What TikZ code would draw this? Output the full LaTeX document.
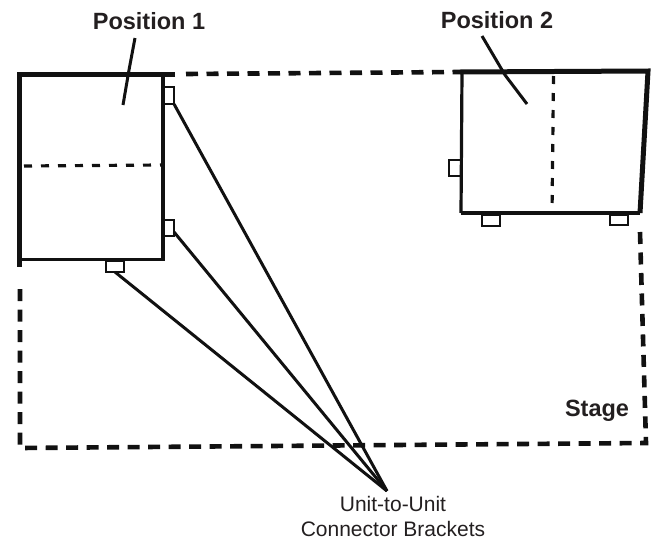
\documentclass[tikz,border=0pt]{standalone}
\usepackage{fontspec}
\setmainfont{Liberation Sans}
\definecolor{inkc}{HTML}{111111}
\definecolor{txtc}{HTML}{231F20}
\tikzset{
  x=1pt,y=-1pt,
  heavy/.style={draw=inkc,line width=5pt},
  unit/.style={draw=inkc,line width=3.2pt},
  stageline/.style={draw=inkc,line width=4.6pt,dash pattern=on 12pt off 8.5pt},
  foldline/.style={draw=inkc,line width=3.2pt,dash pattern=on 8pt off 9pt},
  bracket/.style={draw=inkc,line width=2.4pt,fill=white},
  leader/.style={draw=inkc,line width=3pt},
  lab/.style={text=txtc,font=\fontsize{23.5}{28}\selectfont\bfseries,inner sep=0pt},
  note/.style={text=txtc,font=\fontsize{21}{25}\selectfont,align=center,inner sep=0pt}
}
\begin{document}
\begin{tikzpicture}
\useasboundingbox (0,0) rectangle (655,541);
% stage
\coordinate (s1) at (186,74);
\coordinate (s2) at (460,72);
\coordinate (s3) at (640,232);
\coordinate (s4) at (646,443);
\coordinate (s5) at (20,448);
\coordinate (s6) at (20,284);
\draw[stageline] (s1) -- (s2);
\draw[stageline] (s3) -- (s4) -- (s5) -- (s6);
% brackets position 1
\draw[bracket] (163,87) rectangle (174,104);
\draw[bracket] (163,220) rectangle (174,236);
\draw[bracket] (106,261) rectangle (124,272);
% brackets position 2
\draw[bracket] (449,160) rectangle (461,176);
\draw[bracket] (482,215) rectangle (500,226);
\draw[bracket] (610,215) rectangle (628,225);
% position 1 unit
\coordinate (a1) at (19,74);
\coordinate (a2) at (175,74);
\coordinate (a3) at (163,76);
\coordinate (a4) at (163,259.5);
\coordinate (a5) at (19,259.5);
\coordinate (a6) at (19,267);
\draw[unit] (a3) -- (a4) -- (a5);
\draw[heavy] (a2) -- (a1) -- (a6);
\draw[foldline] (24,166) -- (163,165);
% position 2 unit
\coordinate (b1) at (460,72);
\coordinate (b2) at (648,71);
\coordinate (b3) at (640,213);
\coordinate (b4) at (461,213);
\draw[unit] (b4) -- (462,72);
\draw[unit] (b4) -- (b3);
\draw[heavy] (b1) -- (b2) -- (b3);
\draw[foldline] (553.5,76) -- (552,213);
% leaders
\draw[leader] (135,38) -- (129,70) -- (123,105);
\draw[leader] (482,36) -- (505,75) -- (527,104);
% labels
\node[lab] (pos1) at (149,21) {Position 1};
\node[lab] (pos2) at (497,20) {Position 2};
\node[lab] (stage) at (597,411) {Stage};
\node[note] (cb) at (393,516) {Unit-to-Unit\\Connector Brackets};
% connector lines
\coordinate (apex) at (387,491);
\draw[leader] (174,104) -- (apex);
\draw[leader] (174,232) -- (apex);
\draw[leader] (115,272) -- (apex);
\end{tikzpicture}
\end{document}
